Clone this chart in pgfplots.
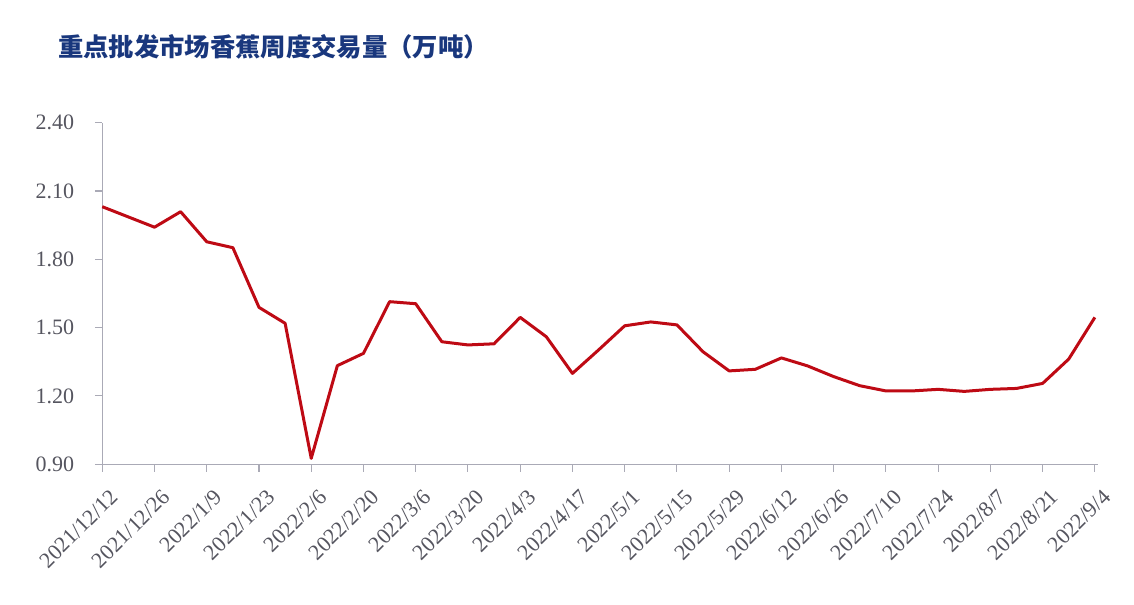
\documentclass[border=0pt]{standalone}
\usepackage{fontspec}
\usepackage{pgfplots}
\pgfplotsset{compat=1.18}
\setmainfont{Liberation Serif}
\newfontfamily\cjk{Noto Sans CJK SC}
\definecolor{linered}{RGB}{190,10,20}
\definecolor{axgray}{RGB}{170,170,182}
\definecolor{lblgray}{RGB}{85,85,95}
\definecolor{titleblue}{RGB}{25,55,125}
\begin{document}
\begin{tikzpicture}
\begin{axis}[
  at={(0,0)}, anchor=origin,
  scale only axis,
  width=746.6pt, height=256.2pt,
  xmin=0, xmax=38.11, ymin=0.9, ymax=2.4,
  axis x line*=bottom, axis y line*=left,
  axis line style={axgray, line width=0.8pt, -},
  tick style={axgray, line width=0.8pt},
  tick align=outside,
  major tick length=5.5pt,
  ytick={0.9,1.2,1.5,1.8,2.1,2.4},
  xtick={0,2,...,38},
  xticklabels={2021/12/12,2021/12/26,2022/1/9,2022/1/23,2022/2/6,2022/2/20,2022/3/6,2022/3/20,2022/4/3,2022/4/17,2022/5/1,2022/5/15,2022/5/29,2022/6/12,2022/6/26,2022/7/10,2022/7/24,2022/8/7,2022/8/21,2022/9/4},
  /pgf/number format/assume math mode=true,
  yticklabel={\pgfmathprintnumber[fixed,fixed zerofill,precision=2]{\tick}},
  ticklabel style={font=\fontsize{16.5}{16.5}\selectfont, text=lblgray},
  xticklabel shift=17pt,
  xticklabel style={inner sep=0pt, rotate=45, anchor=north east, execute at end node={\hspace{-7pt}}},
  yticklabel style={anchor=east, xshift=-12pt},
  clip=false,
]
\addplot[linered, line width=2.25pt, line join=round] coordinates {
(0,2.031) (1,1.986) (2,1.941) (3,2.009) (4,1.877) (5,1.851) (6,1.589) (7,1.519)
(8,0.926) (9,1.333) (10,1.387) (11,1.614) (12,1.605) (13,1.438) (14,1.424) (15,1.429)
(16,1.545) (17,1.460) (18,1.299) (19,1.402) (20,1.508) (21,1.525) (22,1.512) (23,1.394)
(24,1.310) (25,1.317) (26,1.367) (27,1.332) (28,1.285) (29,1.245) (30,1.222) (31,1.222)
(32,1.229) (33,1.220) (34,1.229) (35,1.233) (36,1.255) (37,1.362) (38,1.545)
};
\end{axis}
\node[anchor=west, text=titleblue, font=\cjk\bfseries\fontsize{19}{19}\selectfont, inner sep=0pt] at (-33.2pt,313pt) {重点批发市场香蕉周度交易量（万吨）};
\pgfresetboundingbox
\path[use as bounding box] (-76.7pt,-104.8pt) rectangle (773.8pt,348.2pt);
\end{tikzpicture}
\end{document}
